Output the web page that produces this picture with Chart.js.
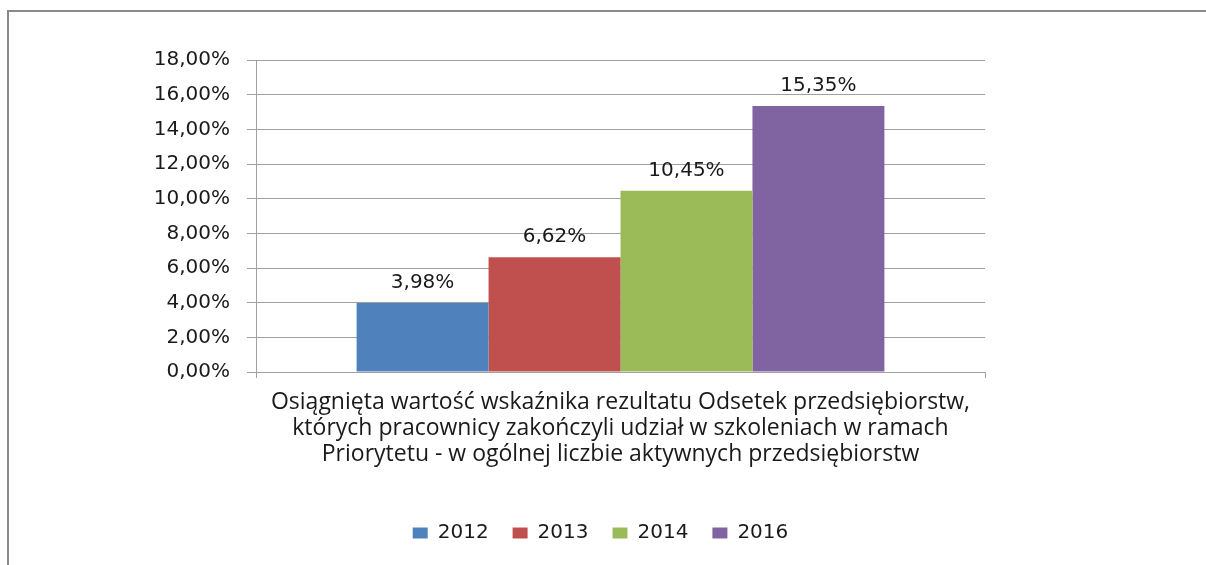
<!DOCTYPE html>
<html>
<head>
<meta charset="utf-8">
<script src="https://cdn.jsdelivr.net/npm/chart.js@4/dist/chart.umd.min.js"></script>
<style>
  html, body { margin: 0; padding: 0; background: #fff; }
  #wrap { width: 1206px; height: 565px; position: relative; }
</style>
</head>
<body>
<div id="wrap"><canvas id="c" width="1206" height="565"></canvas></div>
<script>
const categories = [["Osiągnięta wartość wskaźnika rezultatu Odsetek przedsiębiorstw,", "których pracownicy zakończyli udział w szkoleniach w ramach", "Priorytetu - w ogólnej liczbie aktywnych przedsiębiorstw"]];
const seriesNames = ["2012", "2013", "2014", "2016"];
const values2012 = [3.98];
const values2013 = [6.62];
const values2014 = [10.45];
const values2016 = [15.35];
const seriesColors = ["#4F81BD", "#C0504D", "#9BBB59", "#8064A2"];
const yMin = 0, yMax = 18, yStep = 2;

const fmt = v => v.toFixed(2).replace('.', ',') + '%';

const frame = {
  id: 'frame',
  beforeDraw(chart) {
    const ctx = chart.ctx;
    ctx.save();
    ctx.fillStyle = '#fff';
    ctx.fillRect(0, 0, chart.width, chart.height);
    ctx.strokeStyle = '#8a8a8a';
    ctx.lineWidth = 2;
    ctx.beginPath();
    ctx.moveTo(8, chart.height);
    ctx.lineTo(8, 11);
    ctx.lineTo(chart.width, 11);
    ctx.stroke();
    ctx.restore();
  }
};

const legendShift = {
  id: 'legendShift',
  afterLayout(chart) {
    const lg = chart.legend;
    if (lg) { lg.left += 108; lg.right += 108; }
  }
};

const valueLabels = {
  id: 'valueLabels',
  afterDatasetsDraw(chart) {
    const ctx = chart.ctx;
    ctx.save();
    ctx.font = '20px "DejaVu Sans"';
    ctx.fillStyle = '#1a1a1a';
    ctx.textAlign = 'center';
    ctx.textBaseline = 'middle';
    chart.data.datasets.forEach((ds, i) => {
      chart.getDatasetMeta(i).data.forEach((bar, j) => {
        ctx.fillText(fmt(ds.data[j]), bar.x, bar.y - 20);
      });
    });
    ctx.restore();
  }
};

const allValues = [values2012, values2013, values2014, values2016];

new Chart(document.getElementById('c'), {
  type: 'bar',
  data: {
    labels: categories,
    datasets: seriesNames.map((n, i) => ({
      label: n,
      data: allValues[i],
      backgroundColor: seriesColors[i],
      borderWidth: 0,
      barPercentage: 1,
      categoryPercentage: 0.724
    }))
  },
  options: {
    responsive: false,
    animation: false,
    layout: { padding: { left: 0, right: 221, top: 60, bottom: 12 } },
    plugins: {
      legend: {
        position: 'bottom',
        labels: {
          font: { family: 'DejaVu Sans', size: 20 },
          color: '#1a1a1a',
          boxWidth: 15,
          boxHeight: 11,
          padding: 24
        }
      },
      tooltip: { enabled: false }
    },
    scales: {
      x: {
        grid: { drawOnChartArea: false, color: '#a0a0a0', tickLength: 6 },
        border: { color: '#a0a0a0' },
        ticks: {
          font: { family: 'Open Sans', size: 23, lineHeight: 1.13 },
          color: '#1a1a1a',
          padding: 11
        },
        afterFit(s) { s.height = 127; }
      },
      y: {
        min: yMin, max: yMax,
        grid: { color: '#a0a0a0', tickLength: 9 },
        border: { color: '#a0a0a0' },
        ticks: {
          stepSize: yStep,
          font: { family: 'DejaVu Sans', size: 20 },
          color: '#1a1a1a',
          padding: 17,
          callback: v => fmt(v)
        },
        afterFit(s) { s.width = 256; }
      }
    }
  },
  plugins: [frame, legendShift, valueLabels]
});
</script>
</body>
</html>
